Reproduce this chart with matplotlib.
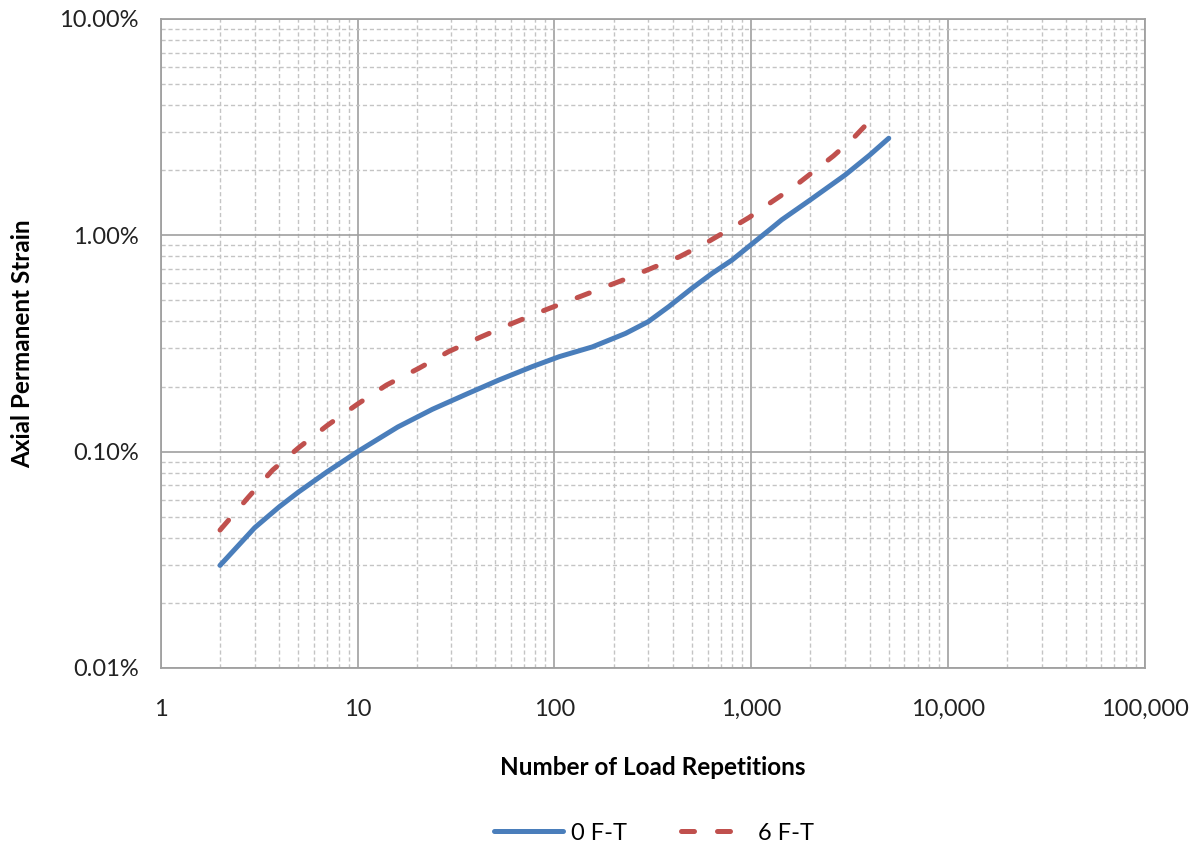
import matplotlib
matplotlib.use("Agg")
import matplotlib.pyplot as plt
from matplotlib.ticker import FuncFormatter, LogLocator, NullFormatter

plt.rcParams['font.family'] = ['Lato', 'DejaVu Sans']

# Data (strain in percent)
n_0ft = [2, 3, 4, 5, 7, 10, 16, 24, 36, 52, 77, 106, 156, 230, 300, 381, 500,
         633, 800, 990, 1270, 1430, 2000, 3000, 4000, 5000]
strain_0ft = [0.0298, 0.0445, 0.0556, 0.065, 0.0807, 0.100, 0.130, 0.157, 0.185,
              0.214, 0.247, 0.275, 0.305, 0.352, 0.399, 0.468, 0.569,
              0.667, 0.769, 0.90, 1.08, 1.18, 1.46, 1.90, 2.35, 2.81]

n_6ft = [2, 2.8, 3.7, 5, 7, 10, 14, 20.5, 29, 42, 60, 85, 120, 166, 228, 317,
         432, 581, 753, 977, 1260, 1640, 2070, 2620, 3300, 4300]
strain_6ft = [0.0434, 0.0619, 0.0822, 0.104, 0.132, 0.166, 0.203, 0.243, 0.29,
              0.338, 0.389, 0.443, 0.50, 0.56, 0.626, 0.709, 0.796, 0.915,
              1.05, 1.21, 1.42, 1.67, 1.97, 2.33, 2.81, 3.62]

series_labels = ["0 F-T", "6 F-T"]
x_label = "Number of Load Repetitions"
y_label = "Axial Permanent Strain"

fig = plt.figure(figsize=(12, 8.52), dpi=100)
ax = fig.add_axes([0.134, 0.216, 0.820, 0.7617])

ax.plot(n_0ft, strain_0ft, color="#4A7EBB", lw=3.6, solid_capstyle="round",
        solid_joinstyle="round", label=series_labels[0], zorder=3)
ax.plot(n_6ft, strain_6ft, color="#C0504D", lw=3.6, dashes=(2.6, 4.6),
        dash_capstyle="round", label=series_labels[1], zorder=3)

ax.set_xscale("log")
ax.set_yscale("log")
ax.set_xlim(1, 100000)
ax.set_ylim(0.01, 10)

ax.xaxis.set_major_locator(LogLocator(base=10, numticks=10))
ax.yaxis.set_major_locator(LogLocator(base=10, numticks=10))
ax.xaxis.set_minor_locator(LogLocator(base=10, subs=range(2, 10), numticks=20))
ax.yaxis.set_minor_locator(LogLocator(base=10, subs=range(2, 10), numticks=20))
ax.xaxis.set_minor_formatter(NullFormatter())
ax.yaxis.set_minor_formatter(NullFormatter())
ax.xaxis.set_major_formatter(FuncFormatter(lambda v, p: f"{v:,.0f}"))
ax.yaxis.set_major_formatter(FuncFormatter(lambda v, p: f"{v:.2f}%"))

ax.grid(which="major", color="#A0A0A0", lw=1.2, ls="-")
ax.grid(which="minor", color="#C4C4C4", lw=1.0, ls=(0, (3, 2)))
ax.set_axisbelow(True)

for s in ax.spines.values():
    s.set_color("#A0A0A0")
    s.set_linewidth(1.3)

ax.tick_params(which="both", length=0)
ax.tick_params(axis="x", labelsize=17, pad=22, colors="#222222")
ax.tick_params(axis="y", labelsize=17, pad=16, colors="#222222")

ax.set_xlabel(x_label, fontsize=17.5, fontweight="bold", labelpad=26)
ax.set_ylabel(y_label, fontsize=17.5, fontweight="bold", labelpad=18)

leg = fig.legend(loc="center", bbox_to_anchor=(0.545, 0.022), ncol=2, frameon=False,
                 fontsize=17, handlelength=2.9, columnspacing=2.3, handletextpad=0.35)

fig.savefig("out.png", dpi=100, facecolor="white")
